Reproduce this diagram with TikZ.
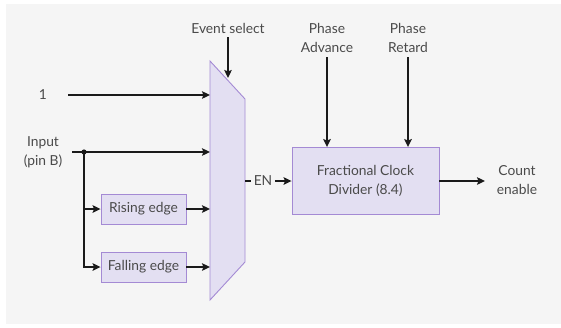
\documentclass[tikz,border=0pt]{standalone}
\usepackage{fontspec}
\setmainfont{Lato}
\usetikzlibrary{arrows.meta}
\definecolor{bg}{HTML}{F5F5F5}
\definecolor{boxfill}{HTML}{E3DFF2}
\definecolor{boxdraw}{HTML}{A48AD4}
\definecolor{txt}{HTML}{4A4A4A}
\definecolor{wirec}{HTML}{1A1A1A}
\begin{document}
\begin{tikzpicture}[x=1pt,y=-1pt,
  lbl/.style={text=txt, font=\fontsize{13.8}{19}\selectfont, align=center, inner sep=0pt},
  blk/.style={draw=boxdraw, fill=boxfill, line width=0.9pt, text=txt, font=\fontsize{13.8}{19}\selectfont, align=center, inner sep=0pt},
  plain/.style={draw=wirec, line width=1.9pt},
  wire/.style={plain, -{Stealth[length=8pt,width=7.5pt,inset=1.5pt]}}]
\useasboundingbox (0,0) rectangle (561,327);
\fill[bg] (6,4) rectangle (561,324);
% multiplexer
\draw[blk] (210,61) -- (245,99) -- (245,262) -- (210,300) -- cycle;
\coordinate (m1) at (210,95);
\coordinate (m2) at (210,152);
\coordinate (mL) at (210,209);
\coordinate (mout) at (245,181);
\coordinate (mtop) at (228,78);
% blocks
\node[blk, minimum width=85pt, minimum height=30pt] (rise) at (143.5,209) {Rising edge};
\node[blk, minimum width=85pt, minimum height=30pt] (fall) at (143.5,267) {Falling edge};
\node[blk, minimum width=147pt, minimum height=67pt] (fcd) at (365.5,181) {Fractional Clock\\Divider (8.4)};
% labels
\node[lbl] (one) at (43,95) {1};
\node[lbl] (inp) at (43,152) {Input\\(pin B)};
\node[lbl] (evs) at (228,28) {Event select};
\node[lbl] (pa) at (327,37.5) {Phase\\Advance};
\node[lbl] (pr) at (408,37.5) {Phase\\Retard};
\node[lbl] (en) at (263,181) {EN};
\node[lbl] (ce) at (517,180.5) {Count\\enable};
\coordinate (cein) at (485,181);
\coordinate (onestart) at (68,95);
\coordinate (inpstart) at (72,152);
\coordinate (j) at (84,152);
% wires
\draw[wire] (onestart) -- (m1);
\draw[wire] (inpstart) -- (m2);
\fill[wirec] (j) circle (2.6pt);
\draw[wire] (j) |- (fall.west);
\draw[wire] (j |- rise.west) -- (rise.west);
\draw[wire] (rise.east) -- (rise.east -| mL);
\draw[wire] (fall.east) -- (fall.east -| mL);
\draw[wire] (228,37) -- (mtop);
\draw[plain] (mout) -- ([xshift=-2.5pt]en.west |- mout);
\draw[wire] ([xshift=2.5pt]en.east |- mout) -- (fcd.west);
\draw[wire] (pa.south |- 0,57) -- (pa.south |- fcd.north);
\draw[wire] (pr.south |- 0,57) -- (pr.south |- fcd.north);
\draw[wire] (fcd.east) -- (cein);
\end{tikzpicture}
\end{document}
